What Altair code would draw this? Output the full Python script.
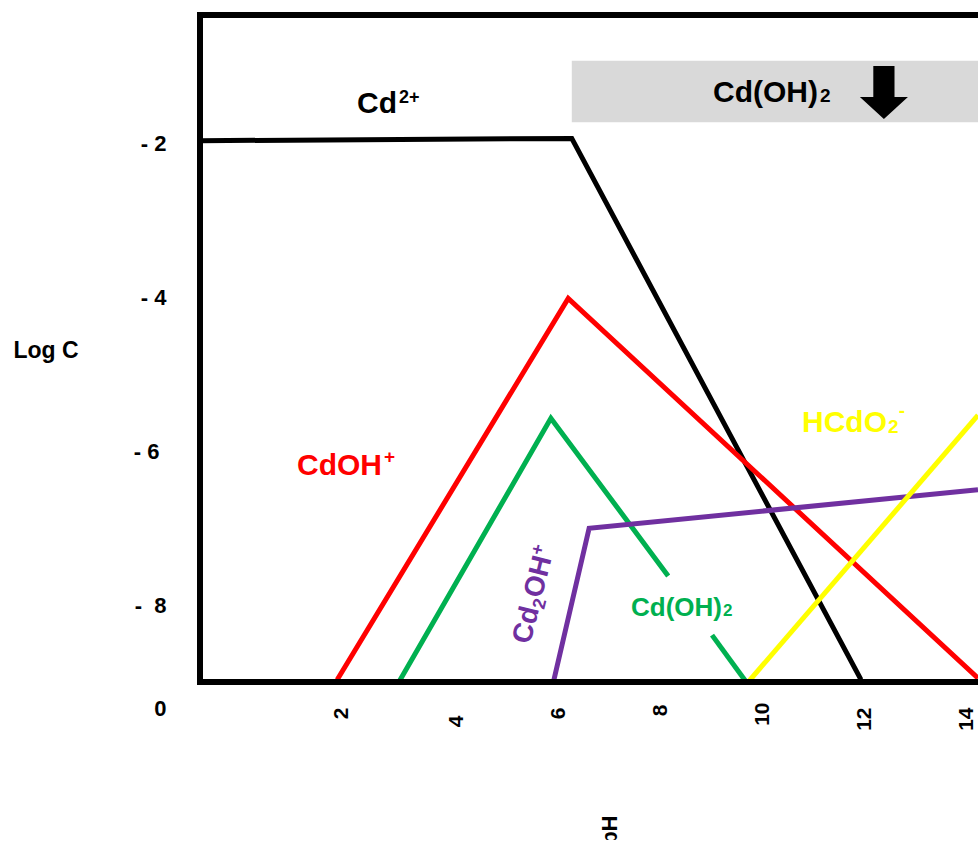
import altair as alt
import pandas as pd

# ---------------- data (pH, log C) ----------------
series_names = ["Cd2+", "CdOH+", "Cd(OH)2", "Cd2OH+", "HCdO2-"]
series_colors = ["#000000", "#ff0000", "#00b050", "#7030a0", "#ffff00"]

cd_x = [-1.02, 6.27, 11.94]
cd_y = [-1.96, -1.93, -8.97]

cdoh_x = [1.67, 6.20, 14.235]
cdoh_y = [-8.97, -4.01, -8.95]

# Cd(OH)2 line, interrupted by its label
cdoh2_a_x = [2.88, 5.86, 8.16]
cdoh2_a_y = [-9.0, -5.57, -7.62]
cdoh2_b_x = [9.02, 9.69]
cdoh2_b_y = [-8.39, -9.0]

cd2oh_x = [5.92, 6.61, 14.235]
cd2oh_y = [-8.97, -7.0, -6.50]

hcdo2_x = [9.73, 14.235]
hcdo2_y = [-9.0, -5.53]

x_tick_pos = [1.75, 4, 6, 8, 10, 12, 14]
x_tick_lab = ["2", "4", "6", "8", "10", "12", "14"]
y_tick_pos = [-2, -4, -6, -8, -9]
y_tick_lab = ["- 2", "- 4", "- 6", "-\u00a0 8", "0"]

# precipitation band (Cd(OH)2 solid)
band_x = [6.27]
band_x2 = [14.235]
band_y = [-0.92]
band_y2 = [-1.72]
arrow_x = [12.39]
arrow_y = [-1.333]

# labels
lab_text = ["Cd", "2+", "Cd(OH)", "2", "CdOH", "+", "HCdO", "2", "-",
            "Cd(OH)", "2", "Cd", "2", "OH", "+"]
lab_x = [2.058, 2.882, 9.039, 11.137, 0.882, 2.588, 10.784, 12.47, 12.68,
         7.431, 9.235, 5.451, 5.723, 5.674, 5.684]
lab_y = [-1.600, -1.470, -1.457, -1.457, -6.308, -6.152, -5.749, -5.762, -5.553,
         -8.142, -8.142, -8.519, -8.063, -7.922, -7.361]
lab_color = ["#000000"] * 4 + ["#ff0000"] * 2 + ["#ffff00"] * 3 + ["#00b050"] * 2 + ["#7030a0"] * 4
lab_size = [30, 18, 30, 19, 30, 19, 30, 19, 19, 26, 17, 28, 18, 28, 18]
lab_angle = [0] * 11 + [284] * 4

X_DOM = [-1.02, 14.235]
Y_DOM = [-9.0, -0.325]

# ---------------- tables ----------------
rows = []
def add(name, seg, xs, ys):
    for i, (a, b) in enumerate(zip(xs, ys)):
        rows.append({"series": name, "seg": seg, "x": a, "y": b, "o": i})

add("Cd2+", "cd", cd_x, cd_y)
add("CdOH+", "cdoh", cdoh_x, cdoh_y)
add("Cd(OH)2", "cdoh2a", cdoh2_a_x, cdoh2_a_y)
add("Cd(OH)2", "cdoh2b", cdoh2_b_x, cdoh2_b_y)
add("Cd2OH+", "cd2oh", cd2oh_x, cd2oh_y)
add("HCdO2-", "hcdo2", hcdo2_x, hcdo2_y)
lines_df = pd.DataFrame(rows)

labels_df = pd.DataFrame({"text": lab_text, "x": lab_x, "y": lab_y, "color": lab_color,
                          "size": lab_size, "angle": lab_angle})
band_df = pd.DataFrame({"x": band_x, "x2": band_x2, "y": band_y, "y2": band_y2})
arrow_df = pd.DataFrame({"x": arrow_x, "y": arrow_y})
frame_df = pd.DataFrame({
    "x": [X_DOM[0], X_DOM[0], X_DOM[0]],
    "x2": [X_DOM[1], X_DOM[0], X_DOM[1]],
    "y": [Y_DOM[1], Y_DOM[0], Y_DOM[0]],
    "y2": [Y_DOM[1], Y_DOM[1], Y_DOM[0]],
})

def chain(vals, labs):
    expr = "''"
    for v, l in reversed(list(zip(vals, labs))):
        expr = f"datum.value == {v} ? '{l}' : ({expr})"
    return expr

FONT = "Liberation Sans"
x_scale = alt.Scale(domain=X_DOM, nice=False, zero=False)
y_scale = alt.Scale(domain=Y_DOM, nice=False, zero=False)

x_axis = alt.Axis(
    values=x_tick_pos, labelExpr=chain(x_tick_pos, x_tick_lab),
    labelAngle=270, labelAlign="right", labelBaseline="middle",
    labelFont=FONT, labelFontWeight="bold", labelFontSize=21, labelColor="black",
    labelPadding={"condition": [{"test": "datum.value == 4", "value": 33},
                                {"test": "datum.value == 10", "value": 20},
                                {"test": "datum.value == 8", "value": 22}],
                  "value": 25},
    labelFlush=False, labelOverlap=False,
    ticks=False, tickSize=0, domain=False, grid=False,
    title="pH", titleAngle=270, titleAlign="right", titleBaseline="middle",
    titleX=409, titleY=133, titleFont=FONT, titleFontWeight="bold",
    titleFontSize=22, titleColor="black",
)
y_axis = alt.Axis(
    values=y_tick_pos, labelExpr=chain(y_tick_pos, y_tick_lab),
    labelFont=FONT, labelFontWeight="bold", labelFontSize=22, labelColor="black",
    labelPadding={"condition": {"test": "datum.value == -6", "value": 41}, "value": 34},
    labelOffset={"condition": {"test": "datum.value == -9", "value": 26}, "value": 0},
    labelFlush=False, labelOverlap=False,
    ticks=False, tickSize=0, domain=False, grid=False,
    title="Log C", titleAngle=0, titleAlign="left", titleBaseline="middle",
    titleX=-187, titleY=335, titleFont=FONT, titleFontWeight="bold",
    titleFontSize=23, titleColor="black",
)

X = alt.X("x:Q", scale=x_scale, axis=x_axis)
Y = alt.Y("y:Q", scale=y_scale, axis=y_axis)

band = alt.Chart(band_df).mark_rect(color="#d9d9d9").encode(x=X, x2="x2:Q", y=Y, y2="y2:Q")

lines = alt.Chart(lines_df).mark_line(strokeWidth=5, clip=True).encode(
    x=X, y=Y,
    color=alt.Color("series:N", scale=alt.Scale(domain=series_names, range=series_colors), legend=None),
    detail="seg:N", order="o:Q",
)

texts = alt.Chart(labels_df).mark_text(align="left", baseline="alphabetic", font=FONT,
                                       fontWeight="bold").encode(
    x=X, y=Y, text="text:N",
    color=alt.Color("color:N", scale=None),
    size=alt.Size("size:Q", scale=None),
    angle=alt.Angle("angle:Q", scale=None),
)

arrow_path = "M-0.4,-1 L0.4,-1 L0.4,0.17 L0.906,0.17 L0,1 L-0.906,0.17 L-0.4,0.17 Z"
arrow = alt.Chart(arrow_df).mark_point(shape=arrow_path, filled=True, color="black",
                                       size=2809, opacity=1, strokeWidth=0).encode(x=X, y=Y)

frame = alt.Chart(frame_df).mark_rule(color="black", strokeWidth=6, strokeCap="square").encode(
    x=X, x2="x2:Q", y=Y, y2="y2:Q")

chart = alt.layer(band, lines, texts, arrow, frame).properties(
    width=778, height=667, autosize="none",
    padding={"left": 200, "top": 15, "right": 0, "bottom": 158},
).configure_view(stroke=None)

chart.save("out.html", embed_options={"renderer": "svg", "actions": False})
